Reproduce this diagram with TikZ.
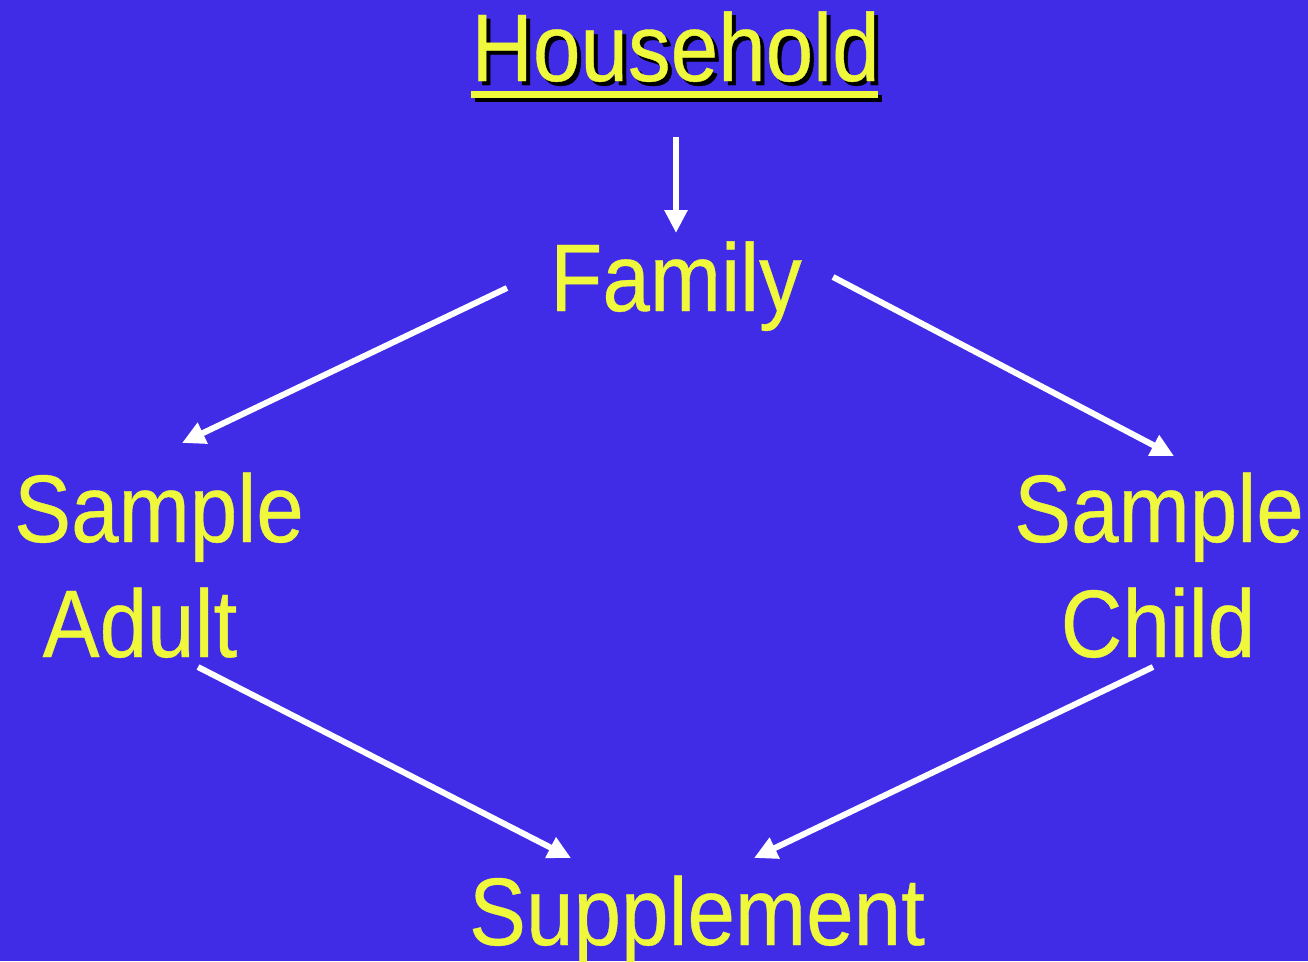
\documentclass[tikz,border=0pt]{standalone}
\usepackage{fontspec}
\setmainfont[FakeStretch=0.89,FakeBold=0.4]{Liberation Sans}
\usetikzlibrary{arrows.meta}
\definecolor{bgblue}{RGB}{64,43,230}
\definecolor{txtyellow}{RGB}{240,248,60}
\tikzset{
  lbl/.style={anchor=base, inner sep=0pt, text=txtyellow, font=\fontsize{96}{115}\selectfont},
  shadowlbl/.style={anchor=base, inner sep=0pt, text=black, font=\fontsize{96}{115}\selectfont},
  conn/.style={draw=white, line width=6pt, -{Triangle[length=23pt,width=22pt]}},
}
\begin{document}
\begin{tikzpicture}[x=1pt,y=-1pt]
  \fill[bgblue] (0,0) rectangle (1308,961);
  \useasboundingbox (0,0) rectangle (1308,961);
  % Household with shadow and underline
  \node[shadowlbl] (hhs) at (679.5,85) {Household};
  \fill[black] (475,95) rectangle (882,102);
  \node[lbl] (hh) at (675.5,81) {Household};
  \fill[txtyellow] (471,91) rectangle (878,98);
  \node[lbl] (fam) at (676,311) {Family};
  \node[lbl] (sa1) at (159,542) {Sample};
  \node[lbl] (sa2) at (140,657) {Adult};
  \node[lbl] (sc1) at (1159,542) {Sample};
  \node[lbl] (sc2) at (1158,657) {Child};
  \node[lbl] (sup) at (697,945) {Supplement};
  % connector end points
  \coordinate (hA) at (676,137);
  \coordinate (fT) at (676,233);
  \coordinate (fL) at (507,288);
  \coordinate (aT) at (182,443);
  \coordinate (fR) at (833,277);
  \coordinate (cT) at (1174,456);
  \coordinate (aB) at (198,667);
  \coordinate (sL) at (571,858);
  \coordinate (cB) at (1153,667);
  \coordinate (sR) at (754,858);
  \draw[conn] (hA) -- (fT);
  \draw[conn] (fL) -- (aT);
  \draw[conn] (fR) -- (cT);
  \draw[conn] (aB) -- (sL);
  \draw[conn] (cB) -- (sR);
\end{tikzpicture}
\end{document}
